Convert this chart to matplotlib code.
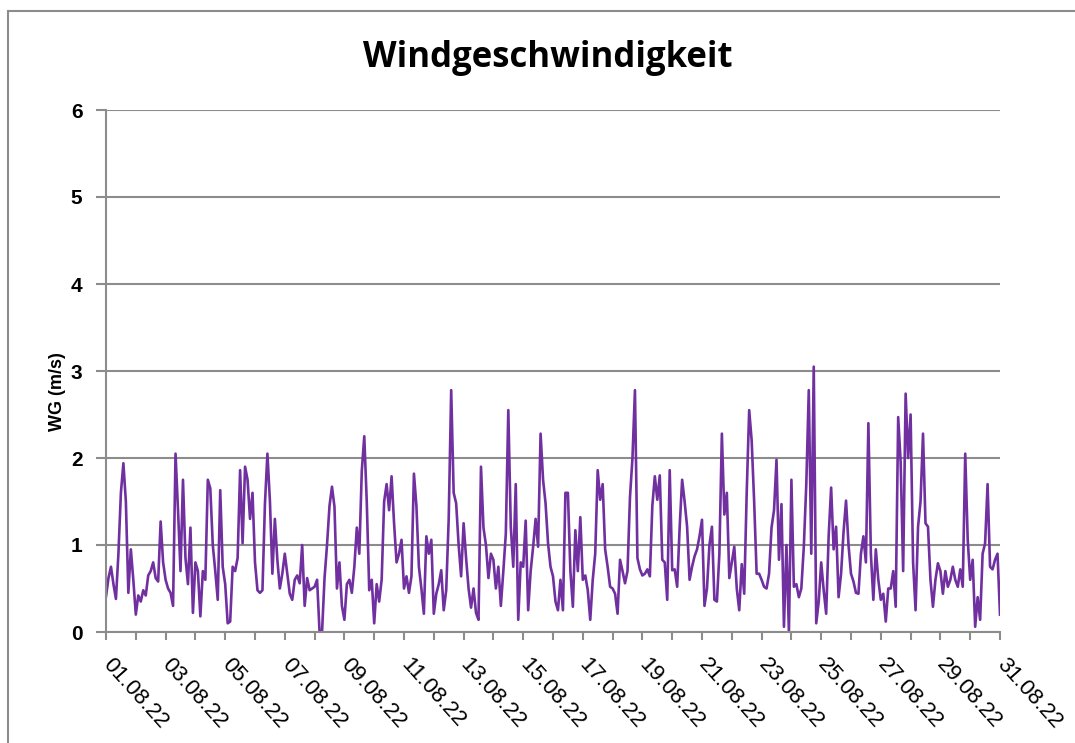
import matplotlib
matplotlib.use("Agg")
import matplotlib.pyplot as plt
import matplotlib.dates as mdates
from matplotlib.patches import Rectangle
import pandas as pd

# Windgeschwindigkeit August 2022, 2-hourly values (m/s)
start = "2022-08-01"
step = "2h"
wg = [
    0.41, 0.62, 0.75, 0.55, 0.38, 0.90, 1.60, 1.94, 1.50, 0.45, 0.95, 0.60,   # 01.08
    0.20, 0.42, 0.35, 0.48, 0.42, 0.65, 0.70, 0.80, 0.62, 0.58, 1.27, 0.80,   # 02.08
    0.60, 0.50, 0.45, 0.30, 2.05, 1.40, 0.70, 1.75, 0.85, 0.55, 1.20, 0.22,   # 03.08
    0.80, 0.70, 0.18, 0.70, 0.60, 1.75, 1.65, 1.00, 0.70, 0.37, 1.63, 0.75,   # 04.08
    0.55, 0.10, 0.12, 0.75, 0.70, 0.85, 1.86, 1.02, 1.90, 1.75, 1.30, 1.60,   # 05.08
    0.80, 0.48, 0.45, 0.48, 1.47, 2.05, 1.51, 0.67, 1.30, 0.83, 0.50, 0.67,   # 06.08
    0.90, 0.67, 0.44, 0.37, 0.60, 0.65, 0.56, 1.00, 0.30, 0.62, 0.48, 0.50,   # 07.08
    0.52, 0.60, 0.00, 0.00, 0.62, 1.00, 1.45, 1.67, 1.44, 0.50, 0.80, 0.30,   # 08.08
    0.14, 0.55, 0.60, 0.45, 0.75, 1.20, 0.90, 1.85, 2.25, 1.50, 0.48, 0.60,   # 09.08
    0.10, 0.55, 0.35, 0.60, 1.50, 1.70, 1.40, 1.79, 1.25, 0.80, 0.90, 1.06,   # 10.08
    0.50, 0.64, 0.45, 0.64, 1.82, 1.45, 0.75, 0.50, 0.21, 1.10, 0.90, 1.06,   # 11.08
    0.21, 0.44, 0.55, 0.71, 0.25, 0.48, 1.30, 2.78, 1.60, 1.48, 1.00, 0.64,   # 12.08
    1.25, 0.85, 0.50, 0.28, 0.50, 0.22, 0.14, 1.90, 1.20, 1.00, 0.62, 0.90,   # 13.08
    0.83, 0.50, 0.75, 0.30, 0.70, 1.13, 2.55, 1.21, 0.75, 1.70, 0.14, 0.80,   # 14.08
    0.75, 1.28, 0.25, 0.70, 0.98, 1.30, 0.98, 2.28, 1.75, 1.48, 1.02, 0.75,   # 15.08
    0.64, 0.35, 0.25, 0.60, 0.25, 1.60, 1.60, 0.70, 0.29, 1.17, 0.70, 1.32,   # 16.08
    0.60, 0.65, 0.48, 0.14, 0.60, 0.90, 1.86, 1.52, 1.70, 0.95, 0.75, 0.52,   # 17.08
    0.50, 0.44, 0.21, 0.83, 0.70, 0.56, 0.70, 1.55, 2.00, 2.78, 0.85, 0.72,   # 18.08
    0.65, 0.67, 0.72, 0.64, 1.45, 1.79, 1.52, 1.80, 0.83, 0.80, 0.37, 1.86,   # 19.08
    0.71, 0.72, 0.52, 1.20, 1.75, 1.50, 1.21, 0.60, 0.75, 0.87, 0.95, 1.10,   # 20.08
    1.29, 0.30, 0.50, 1.00, 1.21, 0.37, 0.35, 0.90, 2.28, 1.35, 1.60, 0.62,   # 21.08
    0.80, 0.98, 0.50, 0.25, 0.78, 0.44, 1.60, 2.55, 2.20, 1.50, 0.67, 0.67,   # 22.08
    0.60, 0.52, 0.50, 0.67, 1.20, 1.40, 1.98, 0.83, 1.47, 0.06, 1.00, 0.00,   # 23.08
    1.75, 0.52, 0.55, 0.40, 0.50, 0.98, 1.70, 2.78, 0.90, 3.05, 0.10, 0.35,   # 24.08
    0.80, 0.48, 0.21, 1.10, 1.66, 0.95, 1.21, 0.40, 0.67, 1.15, 1.51, 1.00,   # 25.08
    0.67, 0.58, 0.45, 0.44, 0.90, 1.10, 0.80, 2.40, 0.90, 0.37, 0.95, 0.60,   # 26.08
    0.37, 0.44, 0.12, 0.50, 0.50, 0.70, 0.29, 2.47, 1.95, 0.70, 2.74, 2.00,   # 27.08
    2.50, 0.80, 0.25, 1.21, 1.50, 2.28, 1.25, 1.21, 0.60, 0.29, 0.60, 0.79,   # 28.08
    0.70, 0.44, 0.70, 0.52, 0.60, 0.75, 0.60, 0.52, 0.72, 0.52, 2.05, 1.06,   # 29.08
    0.60, 0.83, 0.06, 0.40, 0.14, 0.90, 1.02, 1.70, 0.75, 0.72, 0.83, 0.90,   # 30.08
    0.20,                                                                     # 31.08
]
yticks = [0, 1, 2, 3, 4, 5, 6]
title = "Windgeschwindigkeit"
ylabel = "WG (m/s)"

times = pd.date_range(start, periods=len(wg), freq=step)

grey = "#8c8c8c"
purple = "#7030a0"

fig = plt.figure(figsize=(10.75, 7.43), dpi=100)
ax = fig.add_axes([106 / 1075, 1 - 632 / 743, 894 / 1075, 522 / 743])

ax.plot(times, wg, color=purple, linewidth=1.9, solid_joinstyle="round")

ax.set_ylim(0, 6)
ax.set_yticks(yticks)
ax.set_xlim(times[0], times[-1])
ax.xaxis.set_major_locator(mdates.DayLocator(interval=2))
ax.xaxis.set_minor_locator(mdates.DayLocator())
ax.xaxis.set_major_formatter(mdates.DateFormatter("%d.%m.%y"))

ax.grid(axis="y", color=grey, linewidth=1.5)
ax.set_axisbelow(True)
for side in ["left", "bottom"]:
    ax.spines[side].set_color(grey)
    ax.spines[side].set_linewidth(1.5)
ax.spines["right"].set_visible(False)
ax.spines["top"].set_visible(False)

ax.tick_params(axis="y", direction="out", length=7, width=1.5, color=grey, pad=10)
ax.tick_params(axis="x", which="both", direction="out", length=6, width=1.5, color=grey)
for lab in ax.get_yticklabels():
    lab.set_fontfamily("Liberation Sans")
    lab.set_fontweight("bold")
    lab.set_fontsize(15)
for lab in ax.get_xticklabels():
    lab.set_fontfamily("Liberation Sans")
    lab.set_fontsize(16)
    lab.set_rotation(-48)
    lab.set_rotation_mode("anchor")
    lab.set_ha("left")
    lab.set_va("center")
ax.tick_params(axis="x", pad=15)

ax.set_ylabel(ylabel, fontfamily="Liberation Sans", fontweight="bold", fontsize=13)
ax.yaxis.set_label_coords(-0.045, 0.46)

fig.text(548 / 1075, 1 - 58 / 743, title, ha="center", va="center",
         fontfamily="Open Sans", fontweight="bold", fontsize=25)

fig.patches.append(Rectangle((8 / 1075, -0.05), 1.2, 1.05 - 11 / 743, transform=fig.transFigure,
                             fill=False, edgecolor=grey, linewidth=1.5))

fig.savefig("out.png", dpi=100)
